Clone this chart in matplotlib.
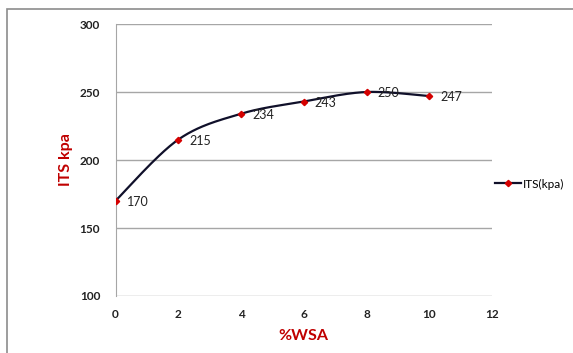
import numpy as np
import matplotlib
matplotlib.use("Agg")
import matplotlib.pyplot as plt
from matplotlib.patches import Rectangle
from matplotlib.lines import Line2D

plt.rcParams['font.family'] = ['Lato', 'DejaVu Sans']

# Data
wsa = [0, 2, 4, 6, 8, 10]
its = [170, 215, 234, 243, 250, 247]
x_ticks = [0, 2, 4, 6, 8, 10, 12]
y_ticks = [100, 150, 200, 250, 300]


# Excel-style smoothed line (Bezier through points)
def smooth(xs, ys, n=40):
    p = np.column_stack([xs, ys]).astype(float)
    out = []
    for i in range(len(p) - 1):
        p0 = p[i - 1] if i > 0 else p[i]
        p1, p2 = p[i], p[i + 1]
        p3 = p[i + 2] if i + 2 < len(p) else p[i + 1]
        c1 = p1 + (p2 - p0) / 6
        c2 = p2 - (p3 - p1) / 6
        t = np.linspace(0, 1, n)[:, None]
        seg = ((1 - t) ** 3 * p1 + 3 * (1 - t) ** 2 * t * c1
               + 3 * (1 - t) * t ** 2 * c2 + t ** 3 * p2)
        out.append(seg)
    out = np.vstack(out)
    return out[:, 0], out[:, 1]


fig = plt.figure(figsize=(5.73, 3.53), dpi=100)
fig.patches.append(Rectangle((7 / 573, -0.01), 1, 1.01 - 9 / 353, transform=fig.transFigure,
                             fill=False, edgecolor='#8c8c8c', linewidth=1.2))

ax = fig.add_axes([115.5 / 573, 1 - 296 / 353, 376.5 / 573, 272 / 353])

sx, sy = smooth(wsa, its)
ax.plot(sx, sy, color='#10102a', linewidth=1.6, zorder=3)
ax.plot(wsa, its, linestyle='none', marker='D', markersize=3.2,
        markerfacecolor='#d40000', markeredgecolor='#d40000', zorder=4)

for x, y in zip(wsa, its):
    ax.annotate(str(y), (x, y), xytext=(8, -1), textcoords='offset points',
                ha='left', va='center', fontsize=9, color='#222222')

ax.set_xlim(0, 12)
ax.set_ylim(100, 300)
ax.set_xticks(x_ticks)
ax.set_yticks(y_ticks)
ax.grid(axis='y', color='#a6a6a6', linewidth=1)
ax.set_axisbelow(True)
for s in ['top', 'right', 'bottom']:
    ax.spines[s].set_visible(False)
ax.spines['left'].set_color('#a6a6a6')
ax.tick_params(length=0, labelsize=8.5, labelcolor='#222222')
ax.tick_params(axis='y', pad=11)
ax.tick_params(axis='x', pad=9)
for lab in ax.get_xticklabels() + ax.get_yticklabels():
    lab.set_fontweight('bold')

ax.set_xlabel('%WSA', color='#c00000', fontsize=11.5, fontweight='bold', labelpad=7)
ax.set_ylabel('ITS kpa', color='#c00000', fontsize=11.5, fontweight='bold', labelpad=5)

handle = Line2D([], [], color='#10102a', linewidth=1.6, marker='D', markersize=3.2,
                markerfacecolor='#d40000', markeredgecolor='#d40000')
fig.legend([handle], ['ITS(kpa)'], loc='center left',
           bbox_to_anchor=(489 / 573, 1 - 184 / 353), frameon=False,
           fontsize=8.5, handlelength=2.2, handletextpad=0.2, borderpad=0)

fig.savefig('out.png', dpi=100)
